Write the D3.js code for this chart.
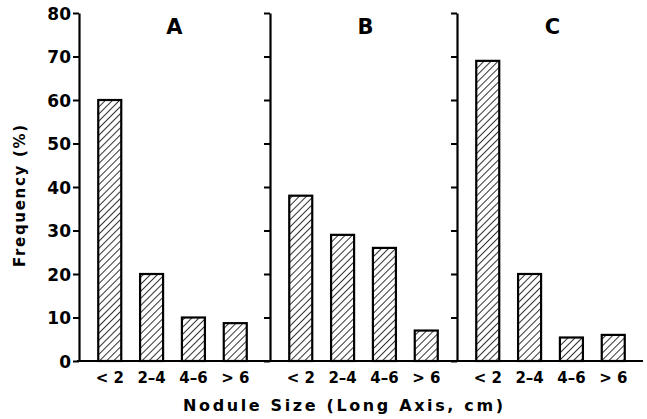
<!DOCTYPE html>
<html>
<head>
<meta charset="utf-8">
<script src="https://cdn.jsdelivr.net/npm/d3@7/dist/d3.min.js"></script>
<style>
  html, body { margin: 0; padding: 0; background: #fff; }
  svg { display: block; }
  text { font-family: "DejaVu Sans", "Liberation Sans", Arial, sans-serif; font-weight: bold; fill: #000; }
</style>
</head>
<body>
<svg id="chart" width="647" height="419"></svg>
<script>
// Nodule size distribution for three groups
const categories = ["< 2", "2\u20134", "4\u20136", "> 6"];
const panels = ["A", "B", "C"];
const valuesA = [60, 20, 10, 8.7];
const valuesB = [38, 29, 26, 7];
const valuesC = [69, 20, 5.4, 6];
const yTicks = [0, 10, 20, 30, 40, 50, 60, 70, 80];
const xTitle = "Nodule Size (Long Axis, cm)";
const yTitle = "Frequency (%)";

const series = [valuesA, valuesB, valuesC];

const svg = d3.select("#chart");

const baseY = 361, topY = 13;
const y = d3.scaleLinear().domain([0, 80]).range([baseY, topY]);

// left edges of each panel (position of its vertical axis)
const panelLeft = [79, 270, 457];
const panelWidth = 187;

// hatch pattern for the bars
const defs = svg.append("defs");
const pat = defs.append("pattern")
  .attr("id", "hatch")
  .attr("patternUnits", "userSpaceOnUse")
  .attr("width", 5)
  .attr("height", 5)
  .attr("patternTransform", "rotate(45)");
pat.append("rect").attr("width", 5).attr("height", 5).attr("fill", "#fff");
pat.append("line")
  .attr("x1", 0).attr("y1", 0).attr("x2", 0).attr("y2", 5)
  .attr("stroke", "#000").attr("stroke-width", 1.6);

panels.forEach((name, i) => {
  const x0 = panelLeft[i];
  const x = d3.scaleBand()
    .domain(categories)
    .range([x0, x0 + panelWidth])
    .paddingInner(0.45)
    .paddingOuter(0.46);

  const g = svg.append("g");

  // vertical axis with ticks pointing left
  const axis = d3.axisLeft(y).tickValues(yTicks).tickSize(6).tickSizeOuter(0)
    .tickFormat(i === 0 ? d3.format("d") : () => "");
  const ag = g.append("g").attr("transform", `translate(${x0},0)`).call(axis);
  ag.select(".domain").attr("stroke", "#000").attr("stroke-width", 2.2);
  ag.selectAll(".tick line").attr("stroke", "#000").attr("stroke-width", 2);
  ag.selectAll(".tick text")
    .attr("x", -8)
    .attr("dy", "0.36em")
    .style("font-size", "17px")
    .style("font-family", "'DejaVu Sans', Arial, sans-serif")
    .style("font-weight", "bold");

  // bars
  g.selectAll("rect.bar")
    .data(series[i])
    .join("rect")
    .attr("class", "bar")
    .attr("x", (d, j) => x(categories[j]))
    .attr("width", x.bandwidth())
    .attr("y", d => y(d))
    .attr("height", d => baseY - y(d))
    .attr("fill", "url(#hatch)")
    .attr("stroke", "#000")
    .attr("stroke-width", 2.2);

  // category labels
  g.selectAll("text.cat")
    .data(categories)
    .join("text")
    .attr("class", "cat")
    .attr("x", d => x(d) + x.bandwidth() / 2)
    .attr("y", 383)
    .attr("text-anchor", "middle")
    .style("font-size", "15px")
    .text(d => d);

  // panel letter
  g.append("text")
    .attr("x", x0 + panelWidth / 2 + 2)
    .attr("y", 34)
    .attr("text-anchor", "middle")
    .style("font-size", "21px")
    .text(name);
});

// shared baseline
svg.append("line")
  .attr("x1", 77).attr("x2", 643)
  .attr("y1", baseY).attr("y2", baseY)
  .attr("stroke", "#000").attr("stroke-width", 2.2);

// axis titles
svg.append("text")
  .attr("x", 183)
  .attr("y", 411)
  .attr("textLength", 320)
  .attr("lengthAdjust", "spacing")
  .style("font-size", "16px")
  .text(xTitle);

svg.append("text")
  .attr("transform", "translate(25,267) rotate(-90)")
  .attr("textLength", 142)
  .attr("lengthAdjust", "spacing")
  .style("font-size", "15px")
  .text(yTitle);
</script>
</body>
</html>
